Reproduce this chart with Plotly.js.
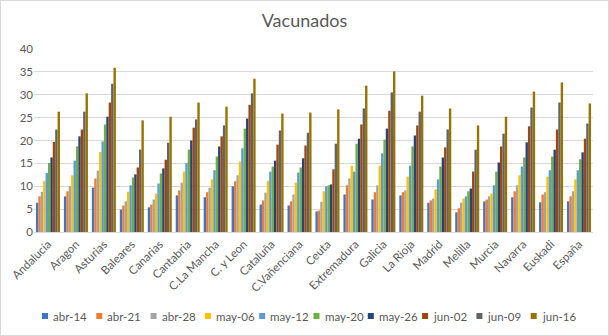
<!DOCTYPE html>
<html><head><meta charset="utf-8">
<script src="https://cdn.plot.ly/plotly-3.0.1.min.js"></script>
<style>body{margin:0;background:#fff}#c{width:609px;height:336px;box-sizing:border-box;border:1px solid #d9d9d9}</style>
</head><body><div id="c"></div><script>
const categories=['Andalucía','Aragon','Asturias','Baleares','Canarias','Cantabria','C.La Mancha','C. y Leon','Cataluña','C.Vañenciana','Ceuta','Extremadura','Galicia','La Rioja','Madrid','Melilla','Murcia','Navarra','Euskadi','España'];
const seriesNames=['abr-14','abr-21','abr-28','may-06','may-12','may-20','may-26','jun-02','jun-09','jun-16'];
const abr14=[6.4,7.8,9.7,4.9,5.4,8.0,7.6,10.0,6.0,5.8,4.5,8.2,7.1,8.0,6.4,4.3,6.7,7.6,6.5,6.7];
const abr21=[7.8,8.9,11.7,5.8,6.0,9.1,8.7,11.1,6.9,6.7,4.7,10.2,8.7,8.7,6.9,5.2,7.1,8.9,8.2,7.8];
const abr28=[8.8,10.0,13.4,6.7,7.1,10.8,9.7,12.4,8.6,8.2,6.6,11.7,10.2,9.1,7.3,6.4,7.8,10.2,8.7,8.9];
const may06=[11.2,12.4,17.5,8.8,8.4,13.2,11.5,15.4,11.2,10.8,8.9,14.5,14.5,12.1,9.3,7.3,8.4,12.4,12.1,11.5];
const may12=[12.9,15.6,19.8,10.2,10.6,15.1,13.5,18.3,13.2,13.0,10.0,13.2,17.2,14.5,11.5,7.8,10.2,14.3,13.5,13.5];
const may20=[15.1,18.7,23.5,11.9,12.8,18.0,16.5,22.6,14.3,14.1,10.2,19.3,20.2,18.7,14.3,8.9,13.2,16.3,16.5,15.9];
const may26=[16.3,20.9,25.2,12.6,13.9,20.0,18.7,24.8,15.6,16.1,10.4,20.4,22.6,21.1,16.3,9.5,15.2,19.6,18.0,17.4];
const jun02=[19.7,22.4,28.3,14.1,15.8,22.8,20.9,27.8,19.1,18.9,13.7,23.5,26.5,23.3,18.5,13.2,18.7,23.1,22.4,20.4];
const jun09=[22.4,26.3,32.4,18.0,19.5,24.6,23.3,30.3,22.2,21.7,19.3,27.0,30.5,26.3,22.4,18.0,21.5,27.2,28.3,23.7];
const jun16=[26.3,30.3,35.9,24.4,25.2,28.3,27.4,33.5,25.9,26.1,26.8,32.0,35.1,29.8,27.0,23.3,25.2,30.7,32.7,28.1];
const seriesValues=[abr14,abr21,abr28,may06,may12,may20,may26,jun02,jun09,jun16];
const colors=['#4472C4','#ED7D31','#A5A5A5','#FFC000','#5B9BD5','#70AD47','#264478','#9E480E','#636363','#997300'];

const W=607,H=334,L=33,R=15,T=48,B=103;
const pw=W-L-R, ph=H-T-B;
const font='Lato, "Noto Sans", sans-serif';
const txt='#595959';

const traces=seriesNames.map((n,i)=>({type:'bar',name:n,x:categories,y:seriesValues[i],marker:{color:colors[i]},hoverinfo:'x+y+name'}));

const shapes=[],annotations=[];
const legY=(T+ph-315)/ph;
seriesNames.forEach((n,i)=>{
  const px=41+54.3*i-L;
  const x0=px/pw, x1=(px+6)/pw;
  shapes.push({type:'rect',xref:'paper',yref:'paper',x0:x0,x1:x1,y0:legY-3/ph,y1:legY+3/ph,fillcolor:colors[i],line:{width:0}});
  annotations.push({xref:'paper',yref:'paper',x:(px+9)/pw,y:legY,xanchor:'left',yanchor:'middle',text:n,showarrow:false,font:{family:font,size:11.5,color:txt}});
});

const layout={
  width:W,height:H,margin:{l:L,r:R,t:T,b:B},
  paper_bgcolor:'#fff',plot_bgcolor:'#fff',
  font:{family:font,color:txt},
  title:{text:'Vacunados',font:{family:font,size:18,color:txt},xref:'container',x:0.5,xanchor:'center',yref:'container',y:1-20/H,yanchor:'middle'},
  barmode:'group',bargap:0.14,bargroupgap:0,
  showlegend:false,
  xaxis:{type:'category',tickangle:-45,tickfont:{family:font,size:11.5,color:txt},showline:true,linecolor:'#d9d9d9',linewidth:1,ticks:'',showgrid:false,automargin:false},
  yaxis:{range:[0,40],dtick:5,tickfont:{family:font,size:11.5,color:txt},showgrid:true,gridcolor:'#d9d9d9',zeroline:false,showline:false,ticks:'',automargin:false},
  shapes:shapes,annotations:annotations
};
Plotly.newPlot('c',traces,layout,{displayModeBar:false,staticPlot:true});
</script></body></html>
